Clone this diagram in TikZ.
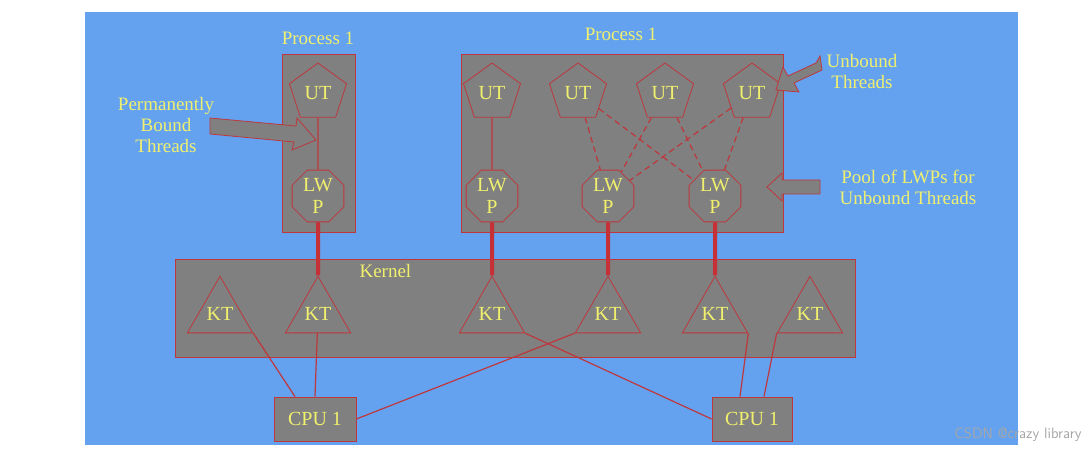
\documentclass[tikz,border=0pt]{standalone}
\usepackage{fontspec}
\setmainfont{Liberation Serif}
\usetikzlibrary{shapes.geometric}
\definecolor{bg}{RGB}{100,162,240}
\definecolor{gr}{RGB}{128,128,128}
\definecolor{ln}{RGB}{190,55,60}
\definecolor{tx}{RGB}{240,240,110}
\begin{document}
\begin{tikzpicture}[x=1pt,y=-1pt,
  box/.style={draw=ln,fill=gr,line width=0.8pt},
  lab/.style={text=tx,font=\fontsize{19}{21}\selectfont,align=center},
  ut/.style={regular polygon,regular polygon sides=5,minimum size=60pt,draw=ln,line width=0.8pt,inner sep=0pt,text=tx,font=\fontsize{20}{22}\selectfont},
  lwp/.style={regular polygon,regular polygon sides=8,minimum size=56pt,draw=ln,line width=0.8pt,inner sep=0pt,text=tx,font=\fontsize{20}{22}\selectfont,align=center},
  kt/.style={regular polygon,regular polygon sides=3,minimum size=72pt,draw=ln,line width=0.8pt,inner sep=0pt,text=tx,font=\fontsize{20}{22}\selectfont},
  thinln/.style={draw=ln,line width=1.2pt},
  dashln/.style={draw=ln,line width=1.2pt,dash pattern=on 6pt off 4pt},
  boldln/.style={draw=ln!90!red,line width=4pt},
  barrow/.style={fill=gr,draw=ln,line width=0.8pt}]
\useasboundingbox (0,0) rectangle (1092,454);
\fill[white] (0,0) rectangle (1092,454);
\fill[bg] (85,12) rectangle (1018,445);
% boxes
\draw[box] (282,54) rectangle (355,232);
\draw[box] (461,54) rectangle (783,232);
\draw[box] (175,259) rectangle (855,357);
\node[lab] (p1) at (318,38) {Process 1};
\node[lab] (p2) at (621,34) {Process 1};
\node[lab,anchor=west] (ker) at (356,271) {Kernel};
% UT
\node[ut] (u1) at (318,93) {UT};
\node[ut] (u2) at (492,93) {UT};
\node[ut] (u3) at (578,93) {UT};
\node[ut] (u4) at (665,93) {UT};
\node[ut] (u5) at (752,93) {UT};
% LWP
\node[lwp] (l1) at (318,196) {LW\\P};
\node[lwp] (l2) at (492,196) {LW\\P};
\node[lwp] (l3) at (608,196) {LW\\P};
\node[lwp] (l4) at (715,196) {LW\\P};
% KT
\node[kt] (k1) at (220,314) {KT};
\node[kt] (k2) at (318,314) {KT};
\node[kt] (k3) at (492,314) {KT};
\node[kt] (k4) at (608,314) {KT};
\node[kt] (k5) at (715,314) {KT};
\node[kt] (k6) at (810,314) {KT};
% CPU
\node[box,minimum width=82pt,minimum height=44pt,text=tx,font=\fontsize{20}{22}\selectfont] (c1) at (315,419) {CPU 1};
\node[box,minimum width=80pt,minimum height=44pt,text=tx,font=\fontsize{20}{22}\selectfont] (c2) at (752,419) {CPU 1};
% UT-LWP
\draw[thinln] (u1) -- (l1);
\draw[thinln] (u2) -- (l2);
\draw[dashln] (u3) -- (l3); \draw[dashln] (u3) -- (l4);
\draw[dashln] (u4) -- (l3); \draw[dashln] (u4) -- (l4);
\draw[dashln] (u5) -- (l3); \draw[dashln] (u5) -- (l4);
% LWP-KT
\draw[boldln] (l1) -- (k2.north);
\draw[boldln] (l2) -- (k3.north);
\draw[boldln] (l3) -- (k4.north);
\draw[boldln] (l4) -- (k5.north);
% KT-CPU
\draw[thinln] (k1.corner 3) -- ([xshift=-20pt]c1.north);
\draw[thinln] (k2) -- (c1.north);
\draw[thinln] (k4.corner 2) -- (c1.east);
\draw[thinln] (k3.corner 3) -- (c2.west);
\draw[thinln] (k5.corner 3) -- ([xshift=-12pt]c2.north);
\draw[thinln] (k6.corner 2) -- ([xshift=12pt]c2.north);
% labels and block arrows
\node[lab] (pb) at (166,125) {Permanently\\Bound\\Threads};
\draw[barrow] (210,118) -- (296,126) -- (297,118) -- (316,140) -- (292,150) -- (294,142) -- (210,134) -- cycle;
\node[lab] (un) at (862,72) {Unbound\\Threads};
\draw[barrow] (820,56) -- (822,70) -- (794,83) -- (799,92) -- (776,90) -- (783,67) -- (788,76) -- (816,63) -- cycle;
\node[lab] (pool) at (908,187) {Pool of LWPs for\\Unbound Threads};
\draw[barrow] (820,180) -- (782,180) -- (782,173) -- (767,187) -- (782,201) -- (782,194) -- (820,194) -- cycle;
\node[text=gray!70,font=\sffamily\fontsize{15}{17}\selectfont,anchor=east] (wm) at (1085,435) {CSDN @crazy library};
\end{tikzpicture}
\end{document}
